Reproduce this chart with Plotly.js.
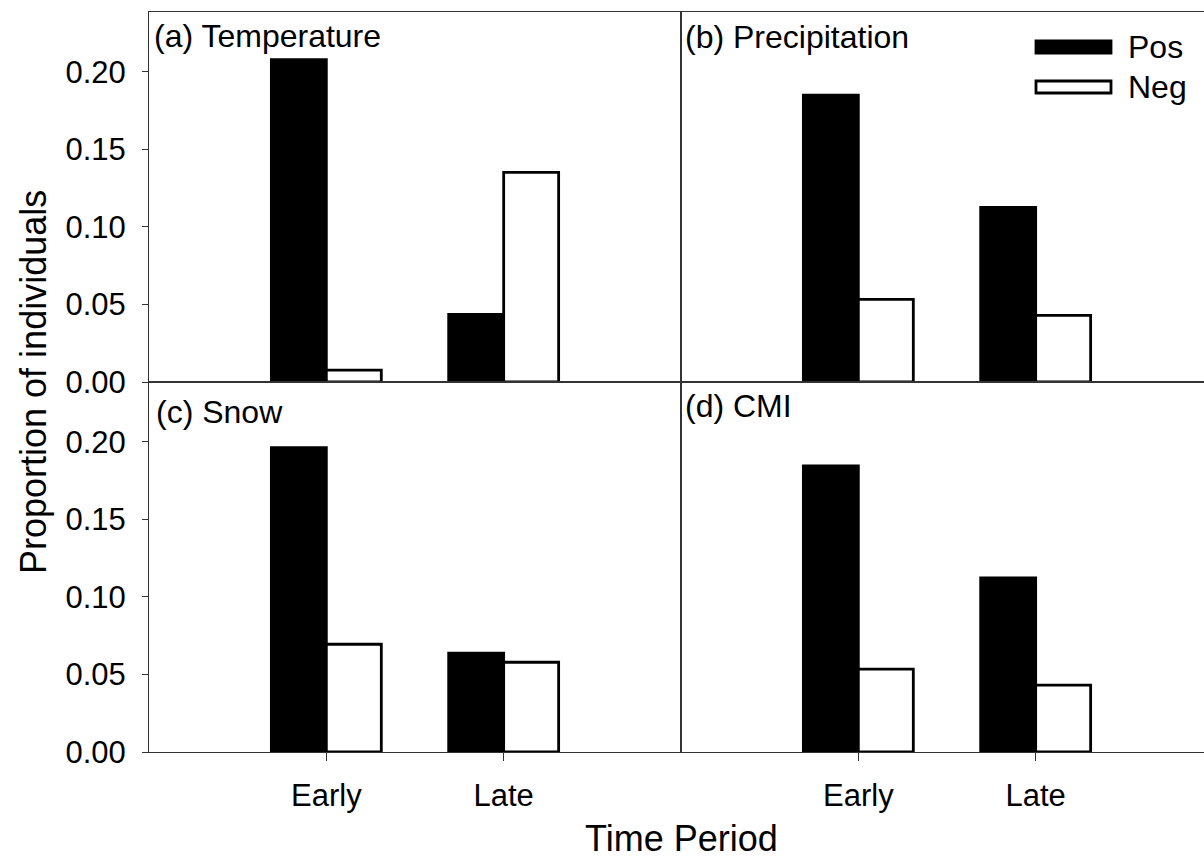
<!DOCTYPE html>
<html>
<head>
<meta charset="utf-8">
<script src="https://cdn.plot.ly/plotly-3.0.1.min.js"></script>
<style>html,body{margin:0;padding:0;background:#fff;overflow:hidden}</style>
</head>
<body>
<div id="chart" style="width:1204px;height:859px"></div>
<script>
// ---- data ----
const periods = ['Early', 'Late'];
const seriesNames = ['Pos', 'Neg'];
const panelTitles = ['(a) Temperature', '(b) Precipitation', '(c) Snow', '(d) CMI'];
const tempPos = [0.208, 0.0436];
const tempNeg = [0.0076, 0.1353];
const precipPos = [0.185, 0.1126];
const precipNeg = [0.0533, 0.043];
const snowPos = [0.1963, 0.0637];
const snowNeg = [0.0695, 0.0579];
const cmiPos = [0.1845, 0.1123];
const cmiNeg = [0.0535, 0.0432];
const yTickVals = [0, 0.05, 0.10, 0.15, 0.20];
const yTickText = ['0.00', '0.05', '0.10', '0.15', '0.20'];
const xTitle = 'Time Period';
const yTitle = 'Proportion of individuals';

// ---- styling ----
const FONT = 'Liberation Sans, Arial, sans-serif';
const FS_TICK = 31;
const FS_LABEL = 32;
const FS_TITLE = 36;
const lineCol = '#333';
const W = 1204, H = 859;
const mL = 149, mR = 0, mT = 12, mB = 107;
const plotW = W - mL - mR, plotH = H - mT - mB;
const split = 532 / plotW;
const yMax = 0.2387;

const panelData = [
  [tempPos, tempNeg], [precipPos, precipNeg],
  [snowPos, snowNeg], [cmiPos, cmiNeg]
];

const traces = [];
panelData.forEach((pair, i) => {
  const n = i === 0 ? '' : String(i + 1);
  pair.forEach((vals, j) => {
    traces.push({
      type: 'bar',
      x: periods,
      y: vals,
      name: seriesNames[j],
      xaxis: 'x' + n,
      yaxis: 'y' + n,
      showlegend: false,
      marker: {
        color: j === 0 ? '#000' : '#fff',
        line: {color: '#000', width: 2.8}
      },
      hoverinfo: 'x+y+name'
    });
  });
});

function xax(i) {
  const left = (i % 2 === 0);
  const bottom = i >= 2;
  return {
    domain: left ? [0, split] : [split, 1],
    anchor: 'y' + (i === 0 ? '' : i + 1),
    type: 'category',
    range: left ? [-1, 2] : [-1, -1 + (plotW - 532) / (532 / 3)],
    showline: true, linecolor: lineCol, linewidth: 1,
    mirror: true,
    showgrid: false, zeroline: false,
    ticks: bottom ? 'outside' : '',
    ticklen: 8, tickwidth: 1, tickcolor: lineCol,
    showticklabels: bottom,
    ticklabelstandoff: 8,
    tickfont: {family: FONT, size: FS_TICK, color: '#000'},
    fixedrange: true
  };
}
function yax(i) {
  const left = (i % 2 === 0);
  const bottom = i >= 2;
  return {
    domain: bottom ? [0, 0.5] : [0.5, 1],
    anchor: 'x' + (i === 0 ? '' : i + 1),
    range: [0, yMax],
    showline: true, linecolor: lineCol, linewidth: 1,
    mirror: left,
    showgrid: false, zeroline: false,
    ticks: left ? 'outside' : '',
    ticklen: 6, tickwidth: 1, tickcolor: lineCol,
    tickvals: yTickVals, ticktext: yTickText,
    showticklabels: left,
    ticklabelstandoff: 10,
    tickfont: {family: FONT, size: FS_TICK, color: '#000'},
    fixedrange: true
  };
}

const layout = {
  width: W, height: H,
  margin: {l: mL, r: mR, t: mT, b: mB, pad: 0},
  paper_bgcolor: '#fff', plot_bgcolor: '#fff',
  font: {family: FONT, size: FS_TICK, color: '#000'},
  barmode: 'group', bargap: 0.38, bargroupgap: 0,
  showlegend: false,
  xaxis: xax(0), yaxis: yax(0),
  xaxis2: xax(1), yaxis2: yax(1),
  xaxis3: xax(2), yaxis3: yax(2),
  xaxis4: xax(3), yaxis4: yax(3),
  annotations: [],
  shapes: []
};

// panel labels (offset in px below each panel top, px right of its left edge)
const labelDown = [24, 25, 30, 24];
const labelRight = [6, 5, 8, 5];
panelTitles.forEach((t, i) => {
  const n = i === 0 ? '' : String(i + 1);
  layout.annotations.push({
    text: t, xref: 'x' + n + ' domain', yref: 'y' + n + ' domain',
    x: 0, y: 1, xanchor: 'left', yanchor: 'middle',
    xshift: labelRight[i] - 3, yshift: -labelDown[i], showarrow: false,
    font: {family: FONT, size: FS_LABEL, color: '#000'}
  });
});

// axis titles
layout.annotations.push({
  text: xTitle, xref: 'paper', yref: 'paper',
  x: split, y: (0 - (838 - (H - mB))) / plotH, xanchor: 'center', yanchor: 'middle',
  showarrow: false, font: {family: FONT, size: FS_TITLE, color: '#000'}
});
layout.annotations.push({
  text: yTitle, xref: 'paper', yref: 'paper', textangle: -90,
  x: (33 - mL) / plotW, y: 0.5, xanchor: 'center', yanchor: 'middle',
  showarrow: false, font: {family: FONT, size: FS_TITLE, color: '#000'}
});

// legend (drawn in top-right panel)
const px = v => (v - mL) / plotW;
const py = v => (H - mB - v) / plotH;
const legendRows = [47, 87];
seriesNames.forEach((nm, j) => {
  const cy = legendRows[j];
  layout.shapes.push({
    type: 'rect', xref: 'paper', yref: 'paper',
    x0: px(1036), x1: px(1111), y0: py(cy - 6), y1: py(cy + 6),
    fillcolor: j === 0 ? '#000' : '#fff',
    line: {color: '#000', width: 2.8}
  });
  layout.annotations.push({
    text: nm, xref: 'paper', yref: 'paper',
    x: px(1126), y: py(cy), xanchor: 'left', yanchor: 'middle',
    showarrow: false, font: {family: FONT, size: FS_LABEL, color: '#000'}
  });
});

Plotly.newPlot('chart', traces, layout, {displayModeBar: false, staticPlot: true});
</script>
</body>
</html>
